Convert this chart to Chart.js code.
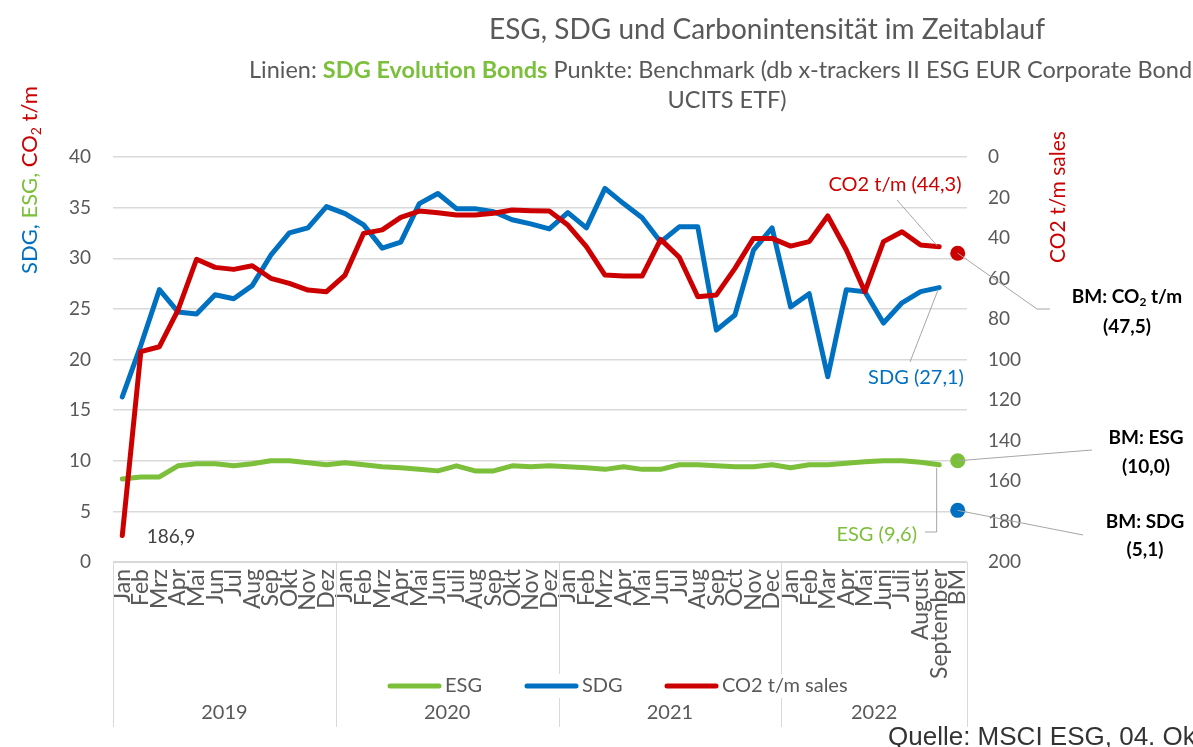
<!DOCTYPE html>
<html lang="de">
<head>
  <meta charset="UTF-8" />
  <title>ESG, SDG und Carbonintensität im Zeitablauf</title>
  <style>
    html, body { margin: 0; padding: 0; background: #fff; }
    #wrap { width: 1193px; height: 747px; position: relative; }
  </style>
</head>
<body>
  <div id="wrap"><canvas id="chart"></canvas></div>

  <script src="https://cdn.jsdelivr.net/npm/chart.js"></script>
  <script>
    // categories (month labels, last one = benchmark)
    const months = [
      'Jan','Feb','Mrz','Apr','Mai','Jun','Jul','Aug','Sep','Okt','Nov','Dez',
      'Jan','Feb','Mrz','Apr','Mai','Jun','Juli','Aug','Sep','Okt','Nov','Dez',
      'Jan','Feb','Mrz','Apr','Mai','Jun','Jul','Aug','Sep','Oct','Nov','Dec',
      'Jan','Feb','Mar','Apr','Mai','Juni','Juli','August','September','BM'
    ];
    const years = ['2019', '2020', '2021', '2022'];
    const yearSpans = [12, 12, 12, 10];

    // series values (left axis: ESG, SDG; right axis: CO2 t/m sales)
    const esgValues = [8.2, 8.4, 8.4, 9.5, 9.7, 9.7, 9.5, 9.7, 10.0, 10.0, 9.8, 9.6,
      9.8, 9.6, 9.4, 9.3, 9.15, 9.0, 9.5, 9.0, 9.0, 9.5, 9.4, 9.5,
      9.4, 9.3, 9.15, 9.4, 9.15, 9.15, 9.6, 9.6, 9.5, 9.4, 9.4, 9.6,
      9.3, 9.6, 9.6, 9.75, 9.9, 10.0, 10.0, 9.85, 9.6, null];
    const sdgValues = [16.3, 21.4, 26.9, 24.7, 24.5, 26.4, 26.0, 27.3, 30.3, 32.5, 33.0, 35.1,
      34.4, 33.3, 31.0, 31.6, 35.4, 36.4, 34.9, 34.9, 34.6, 33.8, 33.4, 32.9,
      34.5, 33.0, 36.9, 35.4, 34.0, 31.6, 33.1, 33.1, 22.9, 24.4, 30.8, 33.0,
      25.2, 26.5, 18.3, 26.9, 26.7, 23.6, 25.6, 26.7, 27.1, null];
    const co2Values = [186.9, 96.1, 93.7, 75.6, 50.5, 54.5, 55.5, 53.7, 59.9, 62.4, 65.7, 66.5,
      58.3, 37.7, 36.0, 29.8, 26.7, 27.5, 28.6, 28.6, 27.8, 26.2, 26.5, 26.7,
      33.6, 44.3, 58.3, 58.8, 58.8, 40.7, 49.5, 69.0, 68.1, 55.0, 40.2, 40.2,
      44.0, 41.8, 29.1, 45.9, 66.5, 41.8, 36.9, 43.5, 44.3, null];

    // benchmark points
    const bmEsg = 10.0;
    const bmSdg = 5.1;
    const bmCo2 = 47.5;

    const leftTicks = { min: 0, max: 40, step: 5 };
    const rightTicks = { min: 0, max: 200, step: 20 };

    const GREEN = '#7CBF3A';
    const BLUE = '#0070C0';
    const RED = '#CC0000';
    const GRAY = '#595959';
    const FONT = 'Lato';

    const lastIdx = months.length - 1;
    const bmOnly = v => months.map((m, i) => i === lastIdx ? v : null);

    function fontOf(p, size) {
      const s = p.sub ? Math.round(size * 0.65) : size;
      return (p.bold ? 'bold ' : '') + s + 'px ' + FONT;
    }

    function drawParts(ctx, parts, x, y, size, align) {
      const widths = parts.map(p => { ctx.font = fontOf(p, size); return ctx.measureText(p.t).width; });
      const total = widths.reduce((a, b) => a + b, 0);
      let cx = align === 'center' ? x - total / 2 : align === 'right' ? x - total : x;
      ctx.textAlign = 'left';
      ctx.textBaseline = 'middle';
      parts.forEach((p, i) => {
        ctx.font = fontOf(p, size);
        ctx.fillStyle = p.color;
        ctx.fillText(p.t, cx, y + (p.sub ? size * 0.28 : 0));
        cx += widths[i];
      });
    }

    function line(ctx, pts) {
      ctx.beginPath();
      ctx.moveTo(pts[0][0], pts[0][1]);
      for (let i = 1; i < pts.length; i++) ctx.lineTo(pts[i][0], pts[i][1]);
      ctx.stroke();
    }

    const decorations = {
      id: 'decorations',
      afterDraw(chart) {
        const ctx = chart.ctx;
        const xs = chart.scales.x, ys = chart.scales.y, ys1 = chart.scales.y1;
        const area = chart.chartArea;
        ctx.save();

        // title + subtitle
        ctx.fillStyle = GRAY;
        ctx.font = '28px ' + FONT;
        ctx.textAlign = 'center';
        ctx.textBaseline = 'middle';
        ctx.fillText('ESG, SDG und Carbonintensität im Zeitablauf', 767, 30);
        drawParts(ctx, [
          { t: 'Linien: ', color: GRAY },
          { t: 'SDG Evolution Bonds', color: GREEN, bold: true },
          { t: ' Punkte: Benchmark (db x-trackers II ESG EUR Corporate Bond', color: GRAY }
        ], 249, 70, 23.5, 'left');
        drawParts(ctx, [{ t: 'UCITS ETF)', color: GRAY }], 727, 100, 23.5, 'center');

        // left axis title
        ctx.save();
        ctx.translate(30, 180);
        ctx.rotate(-Math.PI / 2);
        drawParts(ctx, [
          { t: 'SDG, ', color: BLUE },
          { t: 'ESG, ', color: GREEN },
          { t: 'CO', color: RED },
          { t: '2', color: RED, sub: true },
          { t: ' t/m', color: RED }
        ], 0, 0, 22, 'center');
        ctx.restore();

        // right axis title
        ctx.save();
        ctx.translate(1058, 197);
        ctx.rotate(-Math.PI / 2);
        drawParts(ctx, [{ t: 'CO2 t/m sales', color: RED }], 0, 0, 21, 'center');
        ctx.restore();

        // year group dividers and labels
        const half = (xs.getPixelForValue(1) - xs.getPixelForValue(0)) / 2;
        let start = 0;
        ctx.strokeStyle = '#d9d9d9';
        ctx.lineWidth = 1;
        const edges = [xs.getPixelForValue(0) - half];
        years.forEach((yr, k) => {
          const end = start + yearSpans[k] - 1;
          const left = xs.getPixelForValue(start) - half;
          const right = xs.getPixelForValue(end) + half;
          edges.push(right);
          ctx.fillStyle = GRAY;
          ctx.font = '20px ' + FONT;
          ctx.textAlign = 'center';
          ctx.textBaseline = 'middle';
          ctx.fillText(yr, (left + right) / 2, 713);
          start = end + 1;
        });
        edges.forEach(e => line(ctx, [[Math.round(e) + 0.5, area.bottom], [Math.round(e) + 0.5, 727]]));

        // legend
        ctx.fillStyle = '#fff';
        ctx.fillRect(382, 674, 500, 24);
        const legendItems = [
          { label: 'ESG', color: GREEN, x: 388 },
          { label: 'SDG', color: BLUE, x: 525 },
          { label: 'CO2 t/m sales', color: RED, x: 665 }
        ];
        legendItems.forEach(it => {
          ctx.strokeStyle = it.color;
          ctx.lineWidth = 5;
          ctx.lineCap = 'round';
          line(ctx, [[it.x + 2, 686], [it.x + 51, 686]]);
          drawParts(ctx, [{ t: it.label, color: GRAY }], it.x + 57, 686, 20, 'left');
        });

        // annotations
        const px = i => xs.getPixelForValue(i);
        ctx.lineCap = 'butt';
        ctx.lineWidth = 1;
        ctx.strokeStyle = '#a6a6a6';

        const iLast = lastIdx - 1;
        const co2Pt = [px(iLast), ys1.getPixelForValue(co2Values[iLast])];
        const sdgPt = [px(iLast), ys.getPixelForValue(sdgValues[iLast])];
        const esgPt = [px(iLast), ys.getPixelForValue(esgValues[iLast])];
        line(ctx, [[897, 200], [co2Pt[0] - 2, co2Pt[1] - 1]]);
        line(ctx, [[910, 362], [sdgPt[0] - 1, sdgPt[1] + 2]]);
        line(ctx, [[925, 532], [esgPt[0] - 2.5, 532], [esgPt[0] - 2.5, esgPt[1] + 3]]);
        drawParts(ctx, [{ t: 'CO2 t/m (44,3)', color: RED }], 895, 185, 20, 'center');
        drawParts(ctx, [{ t: 'SDG (27,1)', color: BLUE }], 916, 378, 20, 'center');
        drawParts(ctx, [{ t: 'ESG (9,6)', color: GREEN }], 917, 535, 20, 'right');
        drawParts(ctx, [{ t: '186,9', color: '#404040' }], 171, 537, 19, 'center');

        const bx = px(lastIdx);
        line(ctx, [[bx, ys1.getPixelForValue(bmCo2)], [1037, 309], [1050, 309]]);
        line(ctx, [[bx, ys.getPixelForValue(bmEsg)], [1092, 450]]);
        line(ctx, [[bx, ys.getPixelForValue(bmSdg)], [1083, 535]]);
        const K = '#000';
        drawParts(ctx, [
          { t: 'BM: CO', color: K, bold: true },
          { t: '2', color: K, bold: true, sub: true },
          { t: ' t/m', color: K, bold: true }
        ], 1127, 297, 19, 'center');
        drawParts(ctx, [{ t: '(47,5)', color: K, bold: true }], 1127, 327, 19, 'center');
        drawParts(ctx, [{ t: 'BM: ESG', color: K, bold: true }], 1146, 438, 19, 'center');
        drawParts(ctx, [{ t: '(10,0)', color: K, bold: true }], 1146, 467, 19, 'center');
        drawParts(ctx, [{ t: 'BM: SDG', color: K, bold: true }], 1145, 522, 19, 'center');
        drawParts(ctx, [{ t: '(5,1)', color: K, bold: true }], 1145, 550, 19, 'center');

        // source
        ctx.font = '26px "Liberation Sans"';
        ctx.fillStyle = '#333';
        ctx.textAlign = 'left';
        ctx.textBaseline = 'alphabetic';
        ctx.fillText('Quelle: MSCI ESG, 04. Okt', 888, 745);

        ctx.restore();
      }
    };

    const lineStyle = color => ({
      borderColor: color,
      backgroundColor: color,
      borderWidth: 5,
      pointRadius: 0,
      pointHoverRadius: 0,
      fill: false,
      tension: 0,
      borderCapStyle: 'round',
      borderJoinStyle: 'round',
      spanGaps: false
    });
    const dotStyle = color => ({
      showLine: false,
      pointRadius: 7.5,
      pointHoverRadius: 7.5,
      pointBorderWidth: 0,
      pointBackgroundColor: color,
      borderColor: color,
      backgroundColor: color
    });

    new Chart(document.getElementById('chart'), {
      type: 'line',
      data: {
        labels: months,
        datasets: [
          Object.assign({ label: 'ESG', data: esgValues, yAxisID: 'y', order: 3 }, lineStyle(GREEN)),
          Object.assign({ label: 'SDG', data: sdgValues, yAxisID: 'y', order: 2 }, lineStyle(BLUE)),
          Object.assign({ label: 'CO2 t/m sales', data: co2Values, yAxisID: 'y1', order: 1 }, lineStyle(RED)),
          Object.assign({ label: 'BM: ESG', data: bmOnly(bmEsg), yAxisID: 'y', order: 0 }, dotStyle(GREEN)),
          Object.assign({ label: 'BM: SDG', data: bmOnly(bmSdg), yAxisID: 'y', order: 0 }, dotStyle(BLUE)),
          Object.assign({ label: 'BM: CO2 t/m', data: bmOnly(bmCo2), yAxisID: 'y1', order: 0 }, dotStyle(RED))
        ]
      },
      options: {
        responsive: true,
        maintainAspectRatio: false,
        animation: false,
        devicePixelRatio: 1,
        layout: { padding: { top: 157, left: 0, right: 0, bottom: 0 } },
        plugins: {
          legend: { display: false },
          title: { display: false },
          tooltip: { enabled: false }
        },
        scales: {
          x: {
            offset: true,
            grid: { display: false, drawTicks: false },
            border: { display: true, color: '#d9d9d9', width: 1 },
            ticks: {
              autoSkip: false,
              minRotation: 90,
              maxRotation: 90,
              padding: 7,
              color: GRAY,
              font: { family: FONT, size: 23 }
            },
            afterFit: s => { s.height = 185; }
          },
          y: {
            position: 'left',
            min: leftTicks.min,
            max: leftTicks.max,
            grid: { color: '#d9d9d9', lineWidth: 1.5, drawTicks: false },
            border: { display: false },
            ticks: {
              stepSize: leftTicks.step,
              padding: 22,
              color: GRAY,
              font: { family: FONT, size: 19 }
            },
            afterFit: s => { s.width = 113; }
          },
          y1: {
            position: 'right',
            reverse: true,
            min: rightTicks.min,
            max: rightTicks.max,
            grid: { drawOnChartArea: false, drawTicks: false },
            border: { display: false },
            ticks: {
              stepSize: rightTicks.step,
              padding: 21,
              color: GRAY,
              font: { family: FONT, size: 19 }
            },
            afterFit: s => { s.width = 226; }
          }
        }
      },
      plugins: [decorations]
    });
  </script>
</body>
</html>
